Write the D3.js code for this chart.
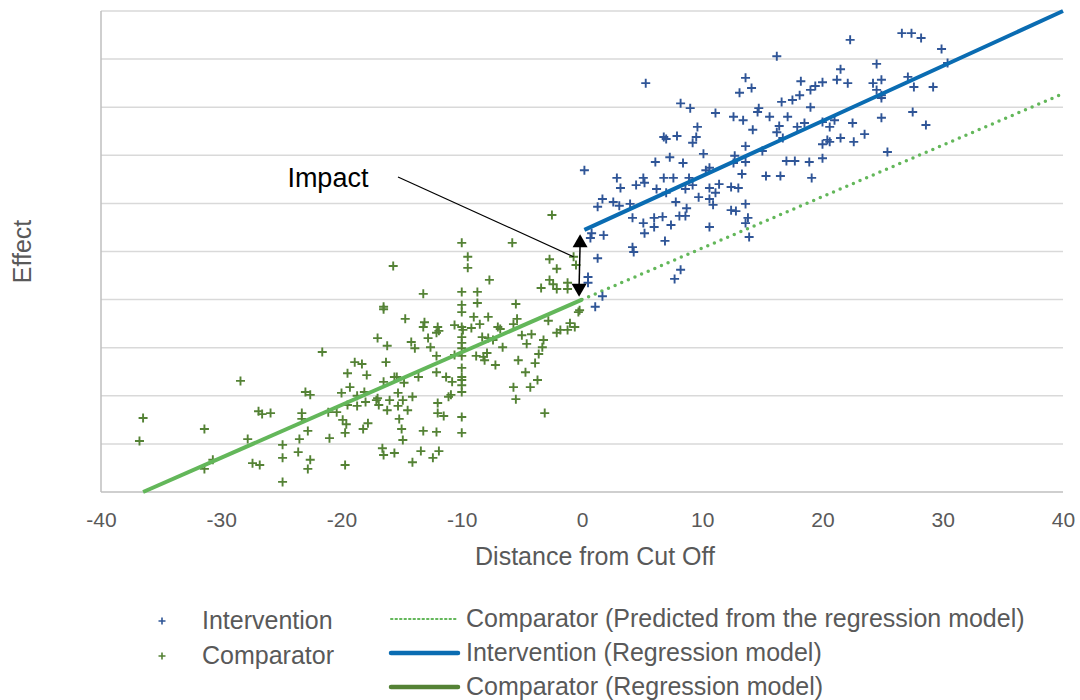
<!DOCTYPE html>
<html>
<head>
<meta charset="utf-8">
<script src="https://cdn.jsdelivr.net/npm/d3@7"></script>
<style>
  body { margin: 0; background: #fff; }
  svg { display: block; font-family: "Liberation Sans", Arial, sans-serif; }
</style>
</head>
<body>
<script>
// Intervention points: [distance from cut off, effect]
var interventionPoints = [
  [0.2,66.9],[5.3,85.0],[16.2,90.6],[22.3,94.0],[26.6,95.4],[27.4,95.4],[28.2,94.4],[29.9,92.1],[30.4,89.2],[24.5,89.0],
  [21.5,87.9],[21.2,85.7],[22.1,85.0],[20.0,85.2],[19.4,84.4],[19.0,83.6],[18.1,82.5],[18.2,85.4],[17.5,81.5],[16.6,81.1],
  [19.0,80.0],[13.6,86.1],[14.1,84.0],[13.1,83.0],[24.2,85.0],[24.9,85.7],[24.5,83.6],[24.9,82.5],[24.9,81.9],[27.1,86.3],
  [27.6,84.2],[29.2,84.2],[27.5,79.0],[28.6,76.3],[24.9,77.8],[25.4,70.7],[22.5,76.7],[23.5,74.4],[22.6,72.8],[21.5,73.6],
  [20.6,72.8],[20.4,73.2],[20.0,72.3],[20.0,69.4],[20.6,75.9],[21.0,77.3],[20.0,76.9],[18.5,76.7],[17.9,75.9],[17.1,78.0],
  [15.6,78.0],[14.7,79.8],[14.6,79.0],[12.6,78.0],[13.4,77.3],[11.1,78.8],[9.0,79.8],[8.2,80.8],[14.2,75.3],[16.4,76.1],
  [16.2,74.8],[16.7,73.6],[13.6,71.9],[15.0,70.9],[12.7,69.9],[12.6,68.4],[13.6,68.6],[13.3,66.1],[17.0,68.8],[17.7,68.8],
  [18.9,68.6],[19.1,65.3],[16.5,65.7],[15.3,65.7],[10.1,70.3],[9.6,75.9],[9.5,73.8],[9.2,72.6],[7.9,74.0],[6.8,73.8],
  [7.0,73.4],[7.3,69.6],[6.1,68.6],[8.4,68.4],[10.3,66.9],[10.6,67.4],[2.9,65.3],[3.2,63.2],[4.5,63.8],[5.1,65.3],
  [5.2,64.3],[6.2,63.0],[7.0,62.2],[6.8,65.3],[7.6,65.3],[8.9,65.3],[9.2,63.8],[8.6,63.0],[9.7,61.3],[10.6,63.2],
  [11.1,62.2],[11.4,64.0],[10.6,60.9],[10.9,59.7],[12.4,63.4],[13.0,63.2],[13.6,59.9],[7.8,60.3],[8.7,59.0],[8.6,57.4],
  [8.1,57.4],[6.7,57.2],[6.0,57.0],[6.0,55.1],[7.4,55.5],[5.1,55.9],[5.2,53.8],[4.2,57.0],[4.0,59.9],[2.6,60.3],
  [1.7,60.9],[1.3,59.3],[3.1,59.5],[12.4,58.6],[12.8,58.4],[10.6,55.1],[13.8,57.0],[13.6,55.9],[13.9,53.0],[6.9,52.2],
  [4.2,50.9],[4.3,49.9],[1.8,53.4],[0.8,53.8],[0.7,52.8],[1.3,48.6],[0.5,44.7],[0.5,43.5],[1.7,40.7],
  [1.1,38.5],[8.2,46.2],[7.7,44.3]
];

// Comparator points
var comparatorPoints = [
  [-10.0,51.8],[-5.8,51.8],[-9.5,48.9],[-9.5,46.6],[-15.7,47.0],[-2.7,48.4],[-2.1,46.4],[-0.7,48.9],[-0.5,47.2],[-7.7,44.1],
  [-13.2,41.2],[-10.0,41.6],[-8.7,41.6],[-10.0,38.9],[-8.7,39.3],[-10.0,37.4],[-16.5,38.5],[-16.5,38.0],[-5.5,39.1],[-2.7,44.1],
  [-3.4,42.4],[-2.4,43.2],[-2.1,42.2],[-1.2,43.5],[-1.2,42.2],[-0.2,37.8],[-0.3,37.4],[-14.7,36.0],[-13.1,35.3],[-13.2,34.3],
  [-12.0,34.3],[-11.9,33.5],[-10.6,34.7],[-10.0,34.3],[-9.9,33.7],[-9.2,34.1],[-9.0,36.4],[-8.5,34.9],[-7.8,36.4],[-7.0,34.3],
  [-6.8,33.9],[-5.7,34.9],[-5.4,36.0],[-2.8,35.6],[-1.0,35.1],[-0.6,34.3],[-1.2,33.7],[-2.1,33.1],[-1.8,33.7],[-17.0,32.0],
  [-16.2,30.4],[-14.2,31.2],[-13.9,29.9],[-12.8,32.0],[-12.6,30.1],[-12.1,28.3],[-10.0,32.2],[-10.0,31.0],[-10.0,29.9],[-8.3,32.2],
  [-7.8,32.0],[-7.4,31.6],[-6.6,30.1],[-5.0,32.6],[-4.2,32.8],[-4.6,30.8],[-3.2,31.6],[-3.3,30.1],[-3.6,28.7],[-3.9,26.8],
  [-3.7,23.3],[-4.3,21.8],[-4.7,24.9],[-5.3,27.4],[-5.7,21.8],[-5.5,19.3],[-3.1,16.4],[-7.2,26.4],[-8.2,28.1],[-8.8,28.3],
  [-7.9,28.9],[-10.6,28.5],[-10.0,28.3],[-10.0,25.8],[-10.0,23.9],[-10.0,23.3],[-10.0,22.2],[-10.0,20.8],[-12.1,24.9],[-11.3,23.9],
  [-10.8,22.9],[-13.6,23.9],[-11.1,19.8],[-10.9,20.2],[-12.0,18.5],[-12.0,16.4],[-11.5,15.8],[-10.0,15.6],[-10.0,12.3],[-12.1,12.5],
  [-13.2,12.7],[-11.9,8.5],[-12.4,7.1],[-13.4,8.5],[-14.1,6.2],[-15.6,8.1],[-16.6,9.1],[-16.5,7.7],[-14.9,10.8],[-15.0,13.1],
  [-15.2,15.2],[-14.5,17.0],[-14.1,19.8],[-14.9,19.1],[-15.3,20.6],[-16.0,19.1],[-16.2,17.0],[-17.0,19.5],[-17.1,19.1],[-16.5,22.9],
  [-15.6,23.9],[-15.4,23.9],[-14.8,22.7],[-16.3,27.0],[-17.9,24.3],[-18.3,26.6],[-18.9,27.0],[-19.5,24.7],[-19.3,21.8],[-20.0,20.6],
  [-18.7,20.0],[-18.1,20.8],[-18.0,18.7],[-18.7,17.9],[-19.5,18.1],[-20.4,16.6],[-21.1,16.6],[-19.9,15.0],[-19.6,14.1],[-17.8,14.3],
  [-18.2,13.1],[-19.7,12.3],[-21.0,11.2],[-21.6,29.1],[-23.0,20.8],[-22.6,20.2],[-23.3,16.4],[-23.3,15.2],[-22.8,12.7],[-23.5,11.0],
  [-24.9,9.8],[-24.9,7.1],[-23.6,8.3],[-22.6,6.7],[-22.8,4.8],[-24.9,2.1],[-19.7,5.6],[-27.4,6.0],[-26.8,5.6],[-26.9,16.8],
  [-26.6,16.2],[-25.9,16.4],[-28.4,23.1],[-27.8,11.0],[-30.7,6.7],[-31.4,4.8],[-31.4,13.1],[-36.5,15.4],[-36.8,10.6],[-16.9,18.1],
  [-15.3,17.9],[-12.1,33.1],[-8.1,27.4],[-2.5,57.6]
];

// Regression lines (end points)
var interventionLine = [[0.2,54.5],[40,100]];
var comparatorLine = [[-36.5,0],[0,40]];
var comparatorPredicted = [[0,40],[40,82.8]];

var xTicks = [-40,-30,-20,-10,0,10,20,30,40];
var yGrid = [0,10,20,30,40,50,60,70,80,90,100];

var xTitle = 'Distance from Cut Off';
var yTitle = 'Effect';

// Impact annotation
var impactLabel = 'Impact';
var impactArrow = {x: -0.2, from: 40.6, to: 53.6};
var impactLeader = [[-15.3,65.5],[-0.7,48.9]];
var impactText = [-24.5,63.4];

var legendPoints = ['Intervention','Comparator'];
var legendLines = [
  'Comparator (Predicted from the regression model)',
  'Intervention (Regression model)',
  'Comparator (Regression model)'
];

var colors = {
  blue: '#2f5597',
  green: '#548235',
  blueLine: '#0a6cb2',
  greenLine: '#63b75a',
  greenLegend: '#548235',
  grid: '#d9d9d9',
  axis: '#bfbfbf',
  text: '#595959'
};

var app = {
  init: function() {
    app.render();
  },
  render: function() {
    var width = 1080, height = 700;
    var m = {left: 101, right: 1063, top: 11, bottom: 492};

    var svg = d3.select('body').append('svg')
      .attr('width', width)
      .attr('height', height);

    var x = d3.scaleLinear().domain([-40, 40]).range([m.left, m.right]);
    var y = d3.scaleLinear().domain([0, 100]).range([m.bottom, m.top]);

    // gridlines
    svg.append('g').selectAll('line').data(yGrid.slice(1)).enter().append('line')
      .attr('x1', m.left).attr('x2', m.right)
      .attr('y1', function(d) { return y(d); })
      .attr('y2', function(d) { return y(d); })
      .attr('stroke', colors.grid)
      .attr('stroke-width', 1.5);

    // axis lines
    svg.append('line')
      .attr('x1', m.left).attr('x2', m.left).attr('y1', y(100)).attr('y2', y(0))
      .attr('stroke', colors.axis).attr('stroke-width', 1.5);
    svg.append('line')
      .attr('x1', m.left).attr('x2', m.right).attr('y1', y(0)).attr('y2', y(0))
      .attr('stroke', colors.axis).attr('stroke-width', 1.5);

    // x tick labels, plain hyphen for negatives
    var xAxis = d3.axisBottom(x).tickValues(xTicks).tickSize(0).tickPadding(20)
      .tickFormat(function(d) { return String(d); });
    var gx = svg.append('g').attr('transform', 'translate(0,' + m.bottom + ')').call(xAxis);
    gx.select('.domain').remove();
    gx.selectAll('text')
      .attr('fill', colors.text)
      .style('font-size', '21px')
      .style('font-family', '"Liberation Sans", Arial, sans-serif');

    // axis titles
    svg.append('text')
      .attr('x', 595)
      .attr('y', 565)
      .attr('text-anchor', 'middle')
      .attr('fill', colors.text)
      .style('font-size', '25px')
      .text(xTitle);

    svg.append('text')
      .attr('transform', 'translate(31,' + ((m.top + m.bottom) / 2) + ') rotate(-90)')
      .attr('text-anchor', 'middle')
      .attr('fill', colors.text)
      .style('font-size', '25px')
      .text(yTitle);

    var line = d3.line()
      .x(function(d) { return x(d[0]); })
      .y(function(d) { return y(d[1]); });

    // predicted comparator (dotted)
    svg.append('path')
      .datum(comparatorPredicted)
      .attr('d', line)
      .attr('fill', 'none')
      .attr('stroke', colors.greenLine)
      .attr('stroke-width', 3.5)
      .attr('stroke-linecap', 'round')
      .attr('stroke-dasharray', '0 7.2');

    // points
    var plus = function(s) {
      return 'M' + (-s) + ',0H' + s + 'M0,' + (-s) + 'V' + s;
    };

    svg.append('g').selectAll('path').data(comparatorPoints).enter().append('path')
      .attr('transform', function(d) { return 'translate(' + x(d[0]) + ',' + y(d[1]) + ')'; })
      .attr('d', plus(4.5))
      .attr('stroke', colors.green)
      .attr('stroke-width', 1.9);

    svg.append('g').selectAll('path').data(interventionPoints).enter().append('path')
      .attr('transform', function(d) { return 'translate(' + x(d[0]) + ',' + y(d[1]) + ')'; })
      .attr('d', plus(4.5))
      .attr('stroke', colors.blue)
      .attr('stroke-width', 1.9);

    // regression lines
    svg.append('path')
      .datum(comparatorLine)
      .attr('d', line)
      .attr('fill', 'none')
      .attr('stroke', colors.greenLine)
      .attr('stroke-width', 4);

    svg.append('path')
      .datum(interventionLine)
      .attr('d', line)
      .attr('fill', 'none')
      .attr('stroke', colors.blueLine)
      .attr('stroke-width', 4);

    // impact arrow
    var ax = x(impactArrow.x);
    var yTop = y(impactArrow.to), yBot = y(impactArrow.from);
    svg.append('line')
      .attr('x1', ax + 0.5).attr('x2', ax - 0.5)
      .attr('y1', yTop + 10).attr('y2', yBot - 10)
      .attr('stroke', '#000').attr('stroke-width', 1.5);
    svg.append('path')
      .attr('d', 'M' + (ax + 0.5) + ',' + yTop + 'l7.5,13h-15z')
      .attr('fill', '#000');
    svg.append('path')
      .attr('d', 'M' + (ax - 0.5) + ',' + yBot + 'l7.5,-13h-15z')
      .attr('fill', '#000');

    svg.append('path')
      .datum(impactLeader)
      .attr('d', line)
      .attr('fill', 'none')
      .attr('stroke', '#000')
      .attr('stroke-width', 1.2);

    svg.append('text')
      .attr('x', x(impactText[0]))
      .attr('y', y(impactText[1]))
      .attr('fill', '#000')
      .style('font-size', '27px')
      .text(impactLabel);

    // legend
    var lg = svg.append('g');
    var pointColors = [colors.blue, colors.green];
    legendPoints.forEach(function(name, i) {
      var cy = 621 + i * 35;
      lg.append('path')
        .attr('transform', 'translate(162,' + cy + ')')
        .attr('d', plus(3.5))
        .attr('stroke', pointColors[i])
        .attr('stroke-width', 1.6);
      lg.append('text')
        .attr('x', 202).attr('y', cy + 8)
        .attr('fill', colors.text)
        .style('font-size', '25px')
        .text(name);
    });

    var lineStyles = [
      {stroke: colors.greenLine, width: 2, dash: '1.5 3'},
      {stroke: colors.blueLine, width: 4.5, dash: null},
      {stroke: colors.greenLegend, width: 4.5, dash: null}
    ];
    legendLines.forEach(function(name, i) {
      var cy = 619 + i * 34;
      var st = lineStyles[i];
      lg.append('line')
        .attr('x1', 391).attr('x2', 458)
        .attr('y1', cy).attr('y2', cy)
        .attr('stroke', st.stroke)
        .attr('stroke-width', st.width)
        .attr('stroke-linecap', 'round')
        .attr('stroke-dasharray', st.dash);
      lg.append('text')
        .attr('x', 466).attr('y', cy + 8)
        .attr('fill', colors.text)
        .style('font-size', '25px')
        .text(name);
    });
  }
};

app.init();
</script>
</body>
</html>
